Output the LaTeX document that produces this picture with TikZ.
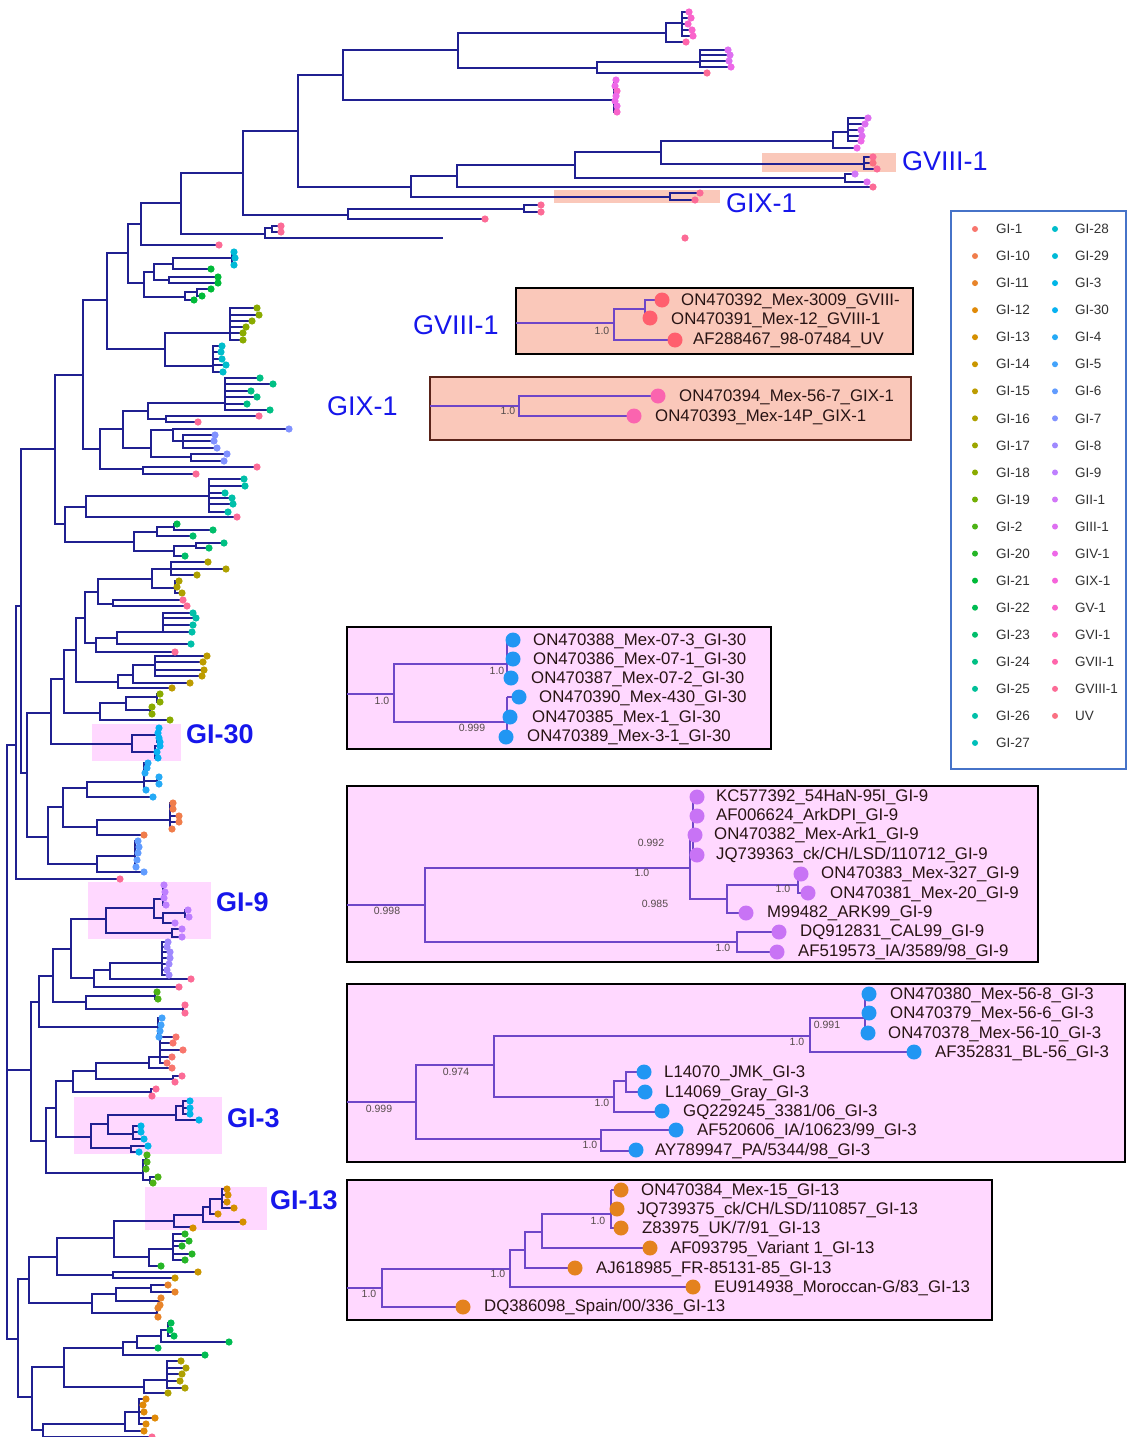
\documentclass[tikz,border=0pt]{standalone}
\usepackage{fontspec}
\setmainfont{Liberation Sans}
\usepackage{xcolor}
\usepackage{tikz}

\definecolor{GI1}{RGB}{248,118,109}
\definecolor{GI10}{RGB}{240,125,75}
\definecolor{GI11}{RGB}{232,132,42}
\definecolor{GI12}{RGB}{224,138,8}
\definecolor{GI13}{RGB}{213,144,0}
\definecolor{GI14}{RGB}{201,150,0}
\definecolor{GI15}{RGB}{189,156,0}
\definecolor{GI16}{RGB}{174,161,0}
\definecolor{GI17}{RGB}{156,166,0}
\definecolor{GI18}{RGB}{138,171,0}
\definecolor{GI19}{RGB}{114,175,4}
\definecolor{GI2}{RGB}{76,179,22}
\definecolor{GI20}{RGB}{38,182,39}
\definecolor{GI21}{RGB}{0,186,56}
\definecolor{GI22}{RGB}{0,188,82}
\definecolor{GI23}{RGB}{0,190,107}
\definecolor{GI24}{RGB}{0,192,132}
\definecolor{GI25}{RGB}{0,192,152}
\definecolor{GI26}{RGB}{0,192,169}
\definecolor{GI27}{RGB}{0,191,186}
\definecolor{GI28}{RGB}{0,189,203}
\definecolor{GI29}{RGB}{0,186,215}
\definecolor{GI3}{RGB}{0,182,231}
\definecolor{GI30}{RGB}{7,178,241}
\definecolor{GI4}{RGB}{37,170,246}
\definecolor{GI5}{RGB}{67,163,251}
\definecolor{GI6}{RGB}{97,156,255}
\definecolor{GI7}{RGB}{129,146,255}
\definecolor{GI8}{RGB}{159,137,255}
\definecolor{GI9}{RGB}{190,127,255}
\definecolor{GII1}{RGB}{210,119,248}
\definecolor{GIII1}{RGB}{222,111,241}
\definecolor{GIV1}{RGB}{238,104,232}
\definecolor{GIX1}{RGB}{246,100,219}
\definecolor{GV1}{RGB}{249,100,203}
\definecolor{GVI1}{RGB}{253,100,188}
\definecolor{GVII1}{RGB}{255,101,171}
\definecolor{GVIII1}{RGB}{252,107,150}
\definecolor{UV}{RGB}{250,112,130}

\definecolor{treeblue}{RGB}{32,32,145}
\definecolor{boxtree}{RGB}{110,70,200}
\definecolor{seqtext}{RGB}{40,20,20}
\definecolor{supptext}{RGB}{85,75,75}
\definecolor{cladeblue}{RGB}{22,22,235}
\definecolor{legtxt}{RGB}{50,50,50}
\definecolor{legendblue}{RGB}{70,115,200}
\definecolor{hlsalmon}{RGB}{250,200,186}
\definecolor{hlpink}{RGB}{255,216,255}
\definecolor{gixborder}{RGB}{90,35,25}
\definecolor{boxred}{RGB}{255,95,110}
\definecolor{boxpink}{RGB}{250,100,175}
\definecolor{boxblue}{RGB}{33,150,243}
\definecolor{boxpurple}{RGB}{200,115,245}
\definecolor{boxorange}{RGB}{228,130,30}

\begin{document}
\begin{tikzpicture}[x=1pt, y=-1pt,
    branch/.style={draw=treeblue, line width=1.8pt},
    boxbranch/.style={draw=boxtree, line width=1.1pt},
    seqlab/.style={anchor=west, inner sep=0pt, text=seqtext, font=\fontsize{16.8}{19}\selectfont},
    supp/.style={inner sep=0pt, text=supptext, font=\fontsize{10.5}{12}\selectfont},
    clade/.style={anchor=west, inner sep=0pt, text=cladeblue, font=\fontsize{27}{30}\selectfont},
    cladebf/.style={clade, font=\fontsize{27}{30}\selectfont\bfseries},
    legtext/.style={anchor=west, inner sep=0pt, text=legtxt, font=\fontsize{13.5}{15}\selectfont}]

    \useasboundingbox (0,0) rectangle (1127,1437);
    \fill[white] (0,0) rectangle (1127,1437);

    % highlighted clades in the tree
    \fill[hlsalmon] (762,153) rectangle (896,172);
    \fill[hlsalmon] (554,190) rectangle (720,203);
    \foreach \xa/\ya/\xb/\yb in {92/724/181/761, 88/882/211/939, 74/1097/222/1154, 145/1187/267/1230}
        \fill[hlpink] (\xa,\ya) rectangle (\xb,\yb);

    % main tree: x/ya/yb/xa/xb
    \foreach \x/\ya/\yb/\xa/\xb in {
        7/745/1339/16/18, 16/606/879/21/120, 21/449/773/55/27, 55/375/524/83/65,
        83/300/449/107/100, 107/253/349/128/165, 128/224/283/141/144, 141/203/245/181/219,
        181/173/234/243/265, 243/131/215/298/348, 298/75/187/343/411, 343/50/100/458/614,
        458/33/68/666/597, 666/23/42/682/686, 682/12/36/689/693, 597/62/73/700/707,
        700/50/67/728/731, 614/80/112/616/617, 411/176/197/457/670, 457/165/187/575/873,
        575/152/178/661/845, 661/141/164/833/864, 833/132/148/848/857, 848/118/141/868/861,
        864/157/169/873/877, 845/174/182/855/867, 670/193/200/700/695,
        348/209/219/524/485, 524/205/212/541/541, 265/228/238/272/443, 272/226/232/281/281,
        144/272/297/154/185, 154/264/280/173/169, 173/258/269/232/211, 232/252/265/234/234,
        169/277/283/218/218, 185/292/300/197/194, 197/289/296/211/202,
        165/333/366/230/213, 230/308/340/257/243, 213/346/372/222/223,
        100/429/469/123/143, 123/411/448/148/151, 148/403/419/225/166, 225/378/410/260/270,
        166/416/422/259/198, 151/430/457/173/191, 173/429/441/289/183, 183/435/448/215/217,
        191/454/461/227/224, 143/467/474/257/196,
        65/507/542/86/134, 86/496/517/209/237, 209/479/512/244/228, 134/532/551/157/174,
        157/527/536/174/193, 174/524/530/177/213, 174/546/556/196/185, 196/543/548/224/209,
        27/713/837/51/48, 51/679/744/64/132, 64/650/713/76/100, 76/618/682/85/118,
        85/592/643/98/96, 98/579/604/152/113, 152/569/588/171/175, 171/562/575/208/197,
        175/581/593/179/182, 113/600/606/183/187, 96/638/652/117/175, 117/632/644/163/191,
        163/613/632/193/192, 118/675/688/133/172, 133/665/683/155/190, 155/656/676/207/202,
        100/703/720/126/170, 126/697/710/157/150, 157/694/702/160/160, 150/707/714/152/152,
        132/735/752/157/155, 157/728/742/159/160, 155/746/758/160/158,
        48/807/864/63/97, 63/788/827/87/97, 87/782/797/144/153, 144/763/790/148/146,
        157/777/784/159/159, 97/820/835/170/144, 170/803/829/173/172, 97/856/872/135/144,
        135/841/867/138/136,
        31/1002/1141/39/46, 39/976/1027/53/158, 53/949/1002/71/86, 71/919/978/106/94,
        106/908/933/154/172, 154/899/918/163/163, 163/885/905/164/166, 163/913/923/185/175,
        185/910/917/188/189, 172/929/937/182/182, 94/970/987/110/179, 110/963/979/162/191,
        162/942/975/168/169, 86/996/1009/155/183, 155/992/999/157/158, 183/1005/1013/185/185,
        158/1018/1037/162/159,
        46/1108/1173/56/143, 56/1081/1137/73/91, 73/1071/1092/96/151, 96/1063/1079/149/173,
        149/1057/1068/160/172, 160/1037/1063/176/167, 173/1076/1082/182/175, 151/1089/1096/156/152,
        91/1124/1148/108/131, 108/1115/1134/176/133, 176/1106/1120/183/199, 183/1101/1114/190/190,
        133/1126/1139/141/144, 131/1146/1152/148/139, 143/1160/1180/146/150, 146/1155/1169/147/146,
        150/1177/1183/158/153,
        18/1279/1397/29/32, 29/1257/1303/57/92, 57/1238/1275/114/113, 114/1221/1257/174/149,
        174/1215/1227/203/193, 203/1207/1222/210/243, 210/1199/1214/222/218, 222/1189/1208/227/234,
        149/1249/1266/173/161, 173/1234/1260/185/185, 113/1272/1278/198/175,
        92/1294/1313/116/157, 116/1288/1301/151/159, 151/1285/1292/168/175, 159/1298/1305/161/160,
        157/1308/1317/158/158,
        32/1367/1430/64/43, 64/1348/1387/123/144, 123/1342/1355/137/205, 137/1336/1348/161/158,
        161/1330/1342/168/229, 168/1323/1336/171/174, 144/1380/1393/167/168, 167/1361/1388/181/185,
        43/1424/1437/125/152, 125/1412/1431/139/144, 139/1399/1424/146/146}
        \draw[branch] (\xa,\ya) -| (\x,\yb) -- (\xb,\yb);

    \foreach \x/\y/\xb in {
        7/1070/31, 682/18/691, 682/24/688, 682/30/692, 700/55/730, 700/61/729,
        614/86/615, 614/91/617, 614/96/616, 614/101/615, 614/106/617,
        848/124/865, 848/130/861, 848/136/862, 864/163/873, 232/258/235,
        230/315/259, 230/321/252, 230/327/246, 230/333/243,
        213/352/221, 213/359/222, 213/365/226,
        225/384/273, 225/391/251, 225/397/257, 225/404/247, 183/441/214,
        209/486/245, 209/493/225, 209/498/232, 209/504/233,
        171/569/226, 175/587/177, 163/618/196, 163/625/193, 155/662/203, 155/670/204,
        157/733/158, 157/738/159, 155/752/157, 144/768/147, 144/773/145, 144/781/157,
        170/809/173, 170/816/179, 170/822/179, 135/847/139, 135/853/138, 135/860/137,
        163/892/165, 163/898/164, 162/947/167, 162/952/170, 162/958/170, 162/964/169, 162/970/167,
        158/1025/161, 158/1031/160, 160/1043/173, 160/1050/183, 160/1057/172,
        183/1108/190, 133/1132/141, 146/1162/147,
        222/1195/228, 222/1202/227, 173/1241/189, 173/1246/182, 173/1254/192,
        168/1330/170, 167/1368/186, 167/1374/182, 167/1381/180,
        139/1405/143, 139/1412/144, 139/1418/155}
        \draw[branch] (\x,\y) -- (\xb,\y);

    % tips
    \foreach \x/\y/\c in {
        689/12/GV1, 691/18/GV1, 688/24/GV1, 692/30/GV1, 693/36/GV1, 686/42/GVII1,
        728/50/GIII1, 730/55/GIII1, 729/61/GIII1, 731/67/GIV1, 707/73/GVIII1,
        616/80/GIV1, 615/86/GIV1, 617/91/GV1, 616/96/GIV1, 615/101/GIV1, 617/106/GIV1, 617/112/GV1,
        868/118/GIII1, 865/124/GIII1, 861/130/GIII1, 862/136/GIII1, 861/141/GIV1, 857/148/GIV1,
        873/157/GVIII1, 873/163/UV, 877/169/GVIII1, 855/174/GII1, 867/182/GIII1, 873/187/GVIII1,
        700/193/GVIII1, 695/200/GVIII1, 541/205/GVIII1, 541/212/GVIII1, 485/219/GVIII1,
        281/226/GVIII1, 281/232/GVIII1, 685/238/GVIII1, 219/245/GVIII1,
        234/252/GI29, 235/258/GI29, 234/265/GI29, 211/269/GI21, 218/277/GI21, 218/283/GI21,
        211/289/GI21, 202/296/GI21, 194/300/GI21,
        257/308/GI18, 259/315/GI18, 252/321/GI18, 246/327/GI18, 243/333/GI18, 243/340/GI18,
        222/346/GI28, 221/352/GI28, 222/359/GI28, 226/365/GI28, 223/372/GI28,
        260/378/GI24, 273/384/GI24, 251/391/GI24, 257/397/GI24, 247/404/GI24, 270/410/GI24,
        259/416/GVIII1, 198/422/GVIII1,
        289/429/GI7, 215/435/GI7, 214/441/GI7, 217/448/GI7, 227/454/GI7, 224/461/GI7,
        257/467/GVIII1, 196/474/GVIII1,
        244/479/GI26, 245/486/GI26, 225/493/GI26, 232/498/GI26, 233/504/GI26, 228/512/GI26, 237/517/GVIII1,
        177/524/GI22, 213/530/GI23, 193/536/GI23, 224/543/GI24, 209/548/GI23, 185/556/GI23,
        208/562/GI16, 226/569/GI16, 197/575/GI16, 179/581/GI16, 177/587/GI16, 182/593/GI16,
        183/600/GVIII1, 187/606/GVIII1,
        193/613/GI26, 196/618/GI26, 193/625/GI26, 192/632/GI26, 191/644/GI26, 175/652/GVIII1,
        207/656/GI15, 203/662/GI15, 204/670/GI15, 202/676/GI15, 190/683/GI15, 172/688/GI15,
        160/694/GI18, 160/702/GI18, 152/707/GI18, 152/714/GI18, 170/720/GI18,
        159/728/GI30, 158/733/GI30, 159/738/GI30, 160/742/GI30, 160/746/GI30, 157/752/GI30, 158/758/GI30,
        148/763/GI4, 147/768/GI4, 145/773/GI4, 159/777/GI4, 159/784/GI4, 146/790/GI4, 153/797/GI4,
        173/803/GI10, 173/809/GI10, 179/816/GI10, 179/822/GI10, 172/829/GI10, 144/835/GI10,
        138/841/GI6, 139/847/GI6, 138/853/GI6, 137/860/GI6, 136/867/GI6, 144/872/GI6, 120/879/GVIII1,
        164/885/GI9, 165/892/GI9, 164/898/GI9, 166/905/GI9, 188/910/GI9, 189/917/GI9, 175/923/GI9,
        182/929/GI9, 182/937/GI9,
        168/942/GI8, 167/947/GI8, 170/952/GI8, 170/958/GI8, 169/964/GI8, 167/970/GI8, 169/975/GI8,
        191/979/GVIII1, 179/987/GVIII1, 157/992/GI2, 158/999/GI2, 185/1005/GVIII1, 185/1013/GVIII1,
        162/1018/GI5, 161/1025/GI5, 160/1031/GI5, 159/1037/GI5,
        176/1037/GI1, 173/1043/GI1, 183/1050/GI1, 172/1057/GI1, 167/1063/GI1, 172/1068/GI1,
        182/1076/GVIII1, 175/1082/GVIII1, 156/1089/GVIII1, 152/1096/GVIII1,
        190/1101/GI3, 190/1108/GI3, 190/1114/GI3, 199/1120/GI3, 141/1126/GI3, 141/1132/GI3,
        144/1139/GI3, 148/1146/GI3, 139/1152/GI3,
        147/1155/GI2, 147/1162/GI2, 146/1169/GI2, 158/1177/GI2, 153/1183/GI2,
        227/1189/GI13, 228/1195/GI13, 227/1202/GI13, 234/1208/GI13, 218/1214/GI13, 243/1222/GI13, 193/1228/GI13,
        185/1234/GI20, 189/1241/GI20, 182/1246/GI20, 192/1254/GI20, 185/1260/GI20, 161/1266/GI20,
        198/1272/GI14, 175/1278/GI14,
        168/1285/GI11, 175/1292/GI11, 161/1298/GI11, 160/1305/GI11, 158/1308/GI11, 158/1317/GI11,
        171/1323/GI22, 170/1330/GI22, 174/1336/GI22, 229/1342/GI22, 158/1348/GI22, 205/1355/GI22,
        181/1361/GI16, 186/1368/GI16, 182/1374/GI16, 180/1381/GI16, 185/1388/GI16, 168/1393/GI16,
        146/1399/GI12, 143/1405/GI12, 144/1412/GI12, 155/1418/GI12, 146/1424/GI12, 144/1431/GI12,
        152/1437/GVIII1}
        \fill[\c] (\x,\y) circle (3.6);

    % clade names on the tree
    \node[clade] (gviiiTop) at (902,161) {GVIII-1};
    \node[clade] (gixTop) at (726,203) {GIX-1};
    \node[cladebf] (gi30) at (186,734) {GI-30};
    \node[cladebf] (gi9) at (216,902) {GI-9};
    \node[cladebf] (gi3) at (227,1118) {GI-3};
    \node[cladebf] (gi13) at (270,1200) {GI-13};
    \node[clade] (gviiiBox) at (413,325) {GVIII-1};
    \node[clade] (gixBox) at (327,406) {GIX-1};

    % zoomed subtrees
    \filldraw[fill=hlsalmon, draw=black, line width=2.4pt] (516,288) rectangle (913,354);
    \filldraw[fill=hlsalmon, draw=gixborder, line width=2.4pt] (430,377) rectangle (911,440);
    \foreach \xa/\ya/\xb/\yb in {347/627/771/749, 347/786/1038/962, 347/984/1125/1162, 347/1180/992/1320}
        \filldraw[fill=hlpink, draw=black, line width=2.4pt] (\xa,\ya) rectangle (\xb,\yb);

    \foreach \x/\ya/\yb/\xa/\xb in {
        614/309/340/645/673, 645/300/314/662/650, 519/396/416/658/634, 394/664/722/507/507,
        425/868/942/690/737, 690/836/899/693/727, 727/885/913/798/746, 798/874/893/801/808,
        737/932/952/779/777,
        416/1065/1139/494/601, 494/1036/1097/810/614, 810/1018/1052/865/913, 614/1081/1112/626/662,
        626/1072/1092/644/645, 601/1130/1151/676/636,
        382/1269/1307/510/463, 510/1250/1287/525/693, 525/1232/1268/542/575, 542/1214/1248/611/649}
        \draw[boxbranch] (\xa,\ya) -| (\x,\yb) -- (\xb,\yb);
    \foreach \x/\y/\xb in {516/323/614, 430/406/519, 347/694/394, 347/905/425, 347/1102/416,
        347/1288/382, 507/697/519, 611/1190/621, 611/1209/617, 611/1228/621}
        \draw[boxbranch] (\x,\y) -- (\xb,\y);
    \foreach \x/\ya/\yb in {507/640/678, 507/697/737, 693/797/855, 865/994/1033, 611/1190/1229}
        \draw[boxbranch] (\x,\ya) -- (\x,\yb);

    \foreach \x/\y/\c in {
        662/300/boxred, 650/318/boxred, 675/340/boxred, 658/396/boxpink, 634/416/boxpink,
        513/640/boxblue, 513/659/boxblue, 511/678/boxblue, 519/697/boxblue, 510/717/boxblue, 506/737/boxblue,
        697/797/boxpurple, 697/816/boxpurple, 695/835/boxpurple, 697/855/boxpurple, 801/874/boxpurple,
        808/893/boxpurple, 746/913/boxpurple, 779/932/boxpurple, 777/952/boxpurple,
        869/994/boxblue, 869/1013/boxblue, 868/1033/boxblue, 914/1052/boxblue, 644/1072/boxblue,
        645/1092/boxblue, 662/1111/boxblue, 676/1130/boxblue, 636/1150/boxblue,
        621/1190/boxorange, 617/1209/boxorange, 621/1228/boxorange, 650/1248/boxorange,
        575/1268/boxorange, 693/1287/boxorange, 463/1307/boxorange}
        \fill[\c] (\x,\y) circle (7.5);

    \foreach \x/\y/\v [count=\i] in {602/331/1.0, 508/411/1.0, 382/701/1.0, 497/671/1.0, 472/728/0.999,
        651/843/0.992, 642/873/1.0, 655/904/0.985, 783/889/1.0, 387/911/0.998, 723/948/1.0,
        827/1025/0.991, 797/1042/1.0, 456/1072/0.974, 379/1109/0.999, 602/1103/1.0, 590/1145/1.0,
        598/1221/1.0, 498/1274/1.0, 369/1294/1.0}
        \node[supp] (bs\i) at (\x,\y) {\v};

    \node[seqlab] (on470392) at (681,301) {ON470392\_Mex-3009\_GVIII-};
    \node[seqlab] (on470391) at (671,320) {ON470391\_Mex-12\_GVIII-1};
    \node[seqlab] (af288467) at (693,340) {AF288467\_98-07484\_UV};
    \node[seqlab] (on470394) at (679,397) {ON470394\_Mex-56-7\_GIX-1};
    \node[seqlab] (on470393) at (655,417) {ON470393\_Mex-14P\_GIX-1};

    \node[seqlab] (on470388) at (533,641) {ON470388\_Mex-07-3\_GI-30};
    \node[seqlab] (on470386) at (533,660) {ON470386\_Mex-07-1\_GI-30};
    \node[seqlab] (on470387) at (531,679) {ON470387\_Mex-07-2\_GI-30};
    \node[seqlab] (on470390) at (539,698) {ON470390\_Mex-430\_GI-30};
    \node[seqlab] (on470385) at (532,718) {ON470385\_Mex-1\_GI-30};
    \node[seqlab] (on470389) at (527,737) {ON470389\_Mex-3-1\_GI-30};

    \node[seqlab] (kc577392) at (716,797) {KC577392\_54HaN-95I\_GI-9};
    \node[seqlab] (af006624) at (716,816) {AF006624\_ArkDPI\_GI-9};
    \node[seqlab] (on470382) at (714,835) {ON470382\_Mex-Ark1\_GI-9};
    \node[seqlab] (jq739363) at (716,855) {JQ739363\_ck/CH/LSD/110712\_GI-9};
    \node[seqlab] (on470383) at (821,874) {ON470383\_Mex-327\_GI-9};
    \node[seqlab] (on470381) at (830,894) {ON470381\_Mex-20\_GI-9};
    \node[seqlab] (m99482) at (767,913) {M99482\_ARK99\_GI-9};
    \node[seqlab] (dq912831) at (800,932) {DQ912831\_CAL99\_GI-9};
    \node[seqlab] (af519573) at (798,952) {AF519573\_IA/3589/98\_GI-9};

    \node[seqlab] (on470380) at (890,995) {ON470380\_Mex-56-8\_GI-3};
    \node[seqlab] (on470379) at (890,1014) {ON470379\_Mex-56-6\_GI-3};
    \node[seqlab] (on470378) at (888,1034) {ON470378\_Mex-56-10\_GI-3};
    \node[seqlab] (af352831) at (935,1053) {AF352831\_BL-56\_GI-3};
    \node[seqlab] (l14070) at (664,1073) {L14070\_JMK\_GI-3};
    \node[seqlab] (l14069) at (665,1093) {L14069\_Gray\_GI-3};
    \node[seqlab] (gq229245) at (683,1112) {GQ229245\_3381/06\_GI-3};
    \node[seqlab] (af520606) at (697,1131) {AF520606\_IA/10623/99\_GI-3};
    \node[seqlab] (ay789947) at (655,1151) {AY789947\_PA/5344/98\_GI-3};

    \node[seqlab] (on470384) at (641,1191) {ON470384\_Mex-15\_GI-13};
    \node[seqlab] (jq739375) at (637,1210) {JQ739375\_ck/CH/LSD/110857\_GI-13};
    \node[seqlab] (z83975) at (642,1229) {Z83975\_UK/7/91\_GI-13};
    \node[seqlab] (af093795) at (670,1249) {AF093795\_Variant 1\_GI-13};
    \node[seqlab] (aj618985) at (596,1269) {AJ618985\_FR-85131-85\_GI-13};
    \node[seqlab] (eu914938) at (714,1288) {EU914938\_Moroccan-G/83\_GI-13};
    \node[seqlab] (dq386098) at (484,1307) {DQ386098\_Spain/00/336\_GI-13};

    % legend
    \draw[legendblue, line width=2.2pt] (951,211) rectangle (1126,769);
    \foreach \t/\c [count=\i from 0] in {GI-1/GI1, GI-10/GI10, GI-11/GI11, GI-12/GI12, GI-13/GI13,
        GI-14/GI14, GI-15/GI15, GI-16/GI16, GI-17/GI17, GI-18/GI18, GI-19/GI19, GI-2/GI2,
        GI-20/GI20, GI-21/GI21, GI-22/GI22, GI-23/GI23, GI-24/GI24, GI-25/GI25, GI-26/GI26, GI-27/GI27} {
        \fill[\c] (975,{229+27.05*\i}) circle (3);
        \node[legtext] (legL\i) at (996,{229+27.05*\i}) {\t};
    }
    \foreach \t/\c [count=\i from 0] in {GI-28/GI28, GI-29/GI29, GI-3/GI3, GI-30/GI30, GI-4/GI4,
        GI-5/GI5, GI-6/GI6, GI-7/GI7, GI-8/GI8, GI-9/GI9, GII-1/GII1, GIII-1/GIII1, GIV-1/GIV1,
        GIX-1/GIX1, GV-1/GV1, GVI-1/GVI1, GVII-1/GVII1, GVIII-1/GVIII1, UV/UV} {
        \fill[\c] (1055,{229+27.05*\i}) circle (3);
        \node[legtext] (legR\i) at (1075,{229+27.05*\i}) {\t};
    }
\end{tikzpicture}
\end{document}
